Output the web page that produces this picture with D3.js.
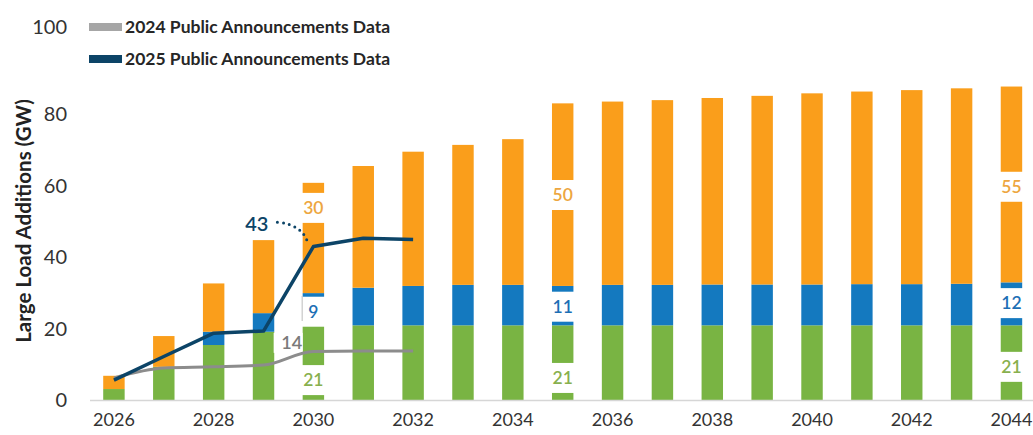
<!DOCTYPE html>
<html>
<head>
<meta charset="utf-8">
<script src="https://cdn.jsdelivr.net/npm/d3@7"></script>
<style>
  body { margin: 0; background: #fff; }
  svg { display: block; font-family: Lato, "Open Sans", sans-serif; }
</style>
</head>
<body>
<div id="chart"></div>
<script>
// Large load additions by year (GW)
var years = [2026, 2027, 2028, 2029, 2030, 2031, 2032, 2033, 2034, 2035,
  2036, 2037, 2038, 2039, 2040, 2041, 2042, 2043, 2044];
var greenVals = [3.2, 9.4, 15.5, 19.2, 21, 21, 21, 21, 21, 21,
  21, 21, 21, 21, 21, 21, 21, 21, 21];
var blueVals = [0, 0, 3.7, 5.2, 9, 10.5, 11, 11.3, 11.3, 11,
  11.3, 11.3, 11.4, 11.4, 11.4, 11.5, 11.5, 11.6, 12];
var orangeVals = [3.7, 8.6, 13.5, 20.4, 30.8, 34, 37.5, 39.1, 40.7, 51,
  51.2, 51.6, 52.1, 52.7, 53.4, 53.8, 54.2, 54.6, 54.7];

// announcement lines
var lineYears = [2026, 2027, 2028, 2029, 2030, 2031, 2032];
var line2024 = [6.3, 9.1, 9.4, 9.9, 13.7, 13.8, 13.8];
var line2025 = [5.7, 12.3, 18.8, 19.4, 43, 45.3, 45.0];

// in-bar value labels (position given in GW)
var labelYears = [2030, 2030, 2030, 2035, 2035, 2035, 2044, 2044, 2044];
var labelSeries = ["orange", "blue", "green", "orange", "blue", "green", "orange", "blue", "green"];
var labelTexts = ["30", "9", "21", "50", "11", "21", "55", "12", "21"];
var labelAt = [53.8, 24.8, 5.7, 57.4, 26.2, 6.3, 59.7, 27.2, 9.4];

var yTicks = [0, 20, 40, 60, 80];
var xTicks = [2026, 2028, 2030, 2032, 2034, 2036, 2038, 2040, 2042, 2044];
var legendNames = ["2024 Public Announcements Data", "2025 Public Announcements Data"];

var colors = { green: "#79b443", blue: "#1479bf", orange: "#fa9e1b" };
var labelColors = { green: "#88b04e", blue: "#1d6fb5", orange: "#eda640" };
var navy = "#0c4467", gray = "#8c8c8c";

var W = 1033, H = 435;
var svg = d3.select("#chart").append("svg").attr("width", W).attr("height", H);

var x = d3.scaleBand().domain(years).range([89, 1036.4])
  .paddingInner(0.57).paddingOuter(0.285);
var y = d3.scaleLinear().domain([0, 100]).range([400.5, 42.5]);
var xc = function(yr) { return x(yr) + x.bandwidth() / 2; };

// stacked bars
var rows = years.map(function(yr, i) {
  return { year: yr, green: greenVals[i], blue: blueVals[i], orange: orangeVals[i] };
});
var stack = d3.stack().keys(["green", "blue", "orange"])(rows);

svg.append("g").selectAll("g")
  .data(stack).enter().append("g")
  .attr("fill", function(d) { return colors[d.key]; })
  .selectAll("rect")
  .data(function(d) { return d; })
  .enter().append("rect")
  .attr("x", function(d) { return x(d.data.year); })
  .attr("width", x.bandwidth())
  .attr("y", function(d) { return y(d[1]); })
  .attr("height", function(d) { return Math.max(0, y(d[0]) - y(d[1])); });

// baseline
svg.append("line")
  .attr("x1", 90).attr("x2", W)
  .attr("y1", y(0)).attr("y2", y(0))
  .attr("stroke", "#d6d6d6").attr("stroke-width", 1.5);

// white boxes + labels inside bars
var labs = labelTexts.map(function(t, i) {
  return { year: labelYears[i], key: labelSeries[i], text: t, at: labelAt[i] };
});
var lg = svg.append("g");
lg.selectAll("rect").data(labs).enter().append("rect")
  .attr("x", function(d) { return x(d.year) - 1; })
  .attr("width", x.bandwidth() + 2)
  .attr("y", function(d) { return y(d.at) - 15; })
  .attr("height", 30)
  .attr("fill", "#fff");
lg.selectAll("text").data(labs).enter().append("text")
  .attr("x", function(d) { return xc(d.year); })
  .attr("y", function(d) { return y(d.at); })
  .attr("dy", "0.36em")
  .attr("text-anchor", "middle")
  .attr("font-size", "17.5px")
  .attr("font-weight", 600)
  .attr("fill", function(d) { return labelColors[d.key]; })
  .text(function(d) { return d.text; });

// "14" label for the 2024 line, boxed at the left of the 2030 bar
svg.append("rect")
  .attr("x", x(2030) - 29).attr("width", 29)
  .attr("y", y(16.1) - 10).attr("height", 20)
  .attr("fill", "#fff");
svg.append("line")
  .attr("x1", x(2030) - 0.5).attr("x2", x(2030) - 0.5)
  .attr("y1", y(29.2)).attr("y2", y(22.2))
  .attr("stroke", "#bdbdbd").attr("stroke-width", 1);

// lines
var lineGen = d3.line()
  .x(function(d) { return xc(d[0]); })
  .y(function(d) { return y(d[1]); });

svg.append("path")
  .datum(lineYears.map(function(yr, i) { return [yr, line2024[i]]; }))
  .attr("fill", "none").attr("stroke", gray).attr("stroke-width", 3)
  .attr("d", lineGen.curve(d3.curveMonotoneX));

svg.append("path")
  .datum(lineYears.map(function(yr, i) { return [yr, line2025[i]]; }))
  .attr("fill", "none").attr("stroke", navy).attr("stroke-width", 3.5)
  .attr("stroke-linejoin", "round")
  .attr("d", lineGen.curve(d3.curveLinear));

svg.append("text")
  .attr("x", x(2030) - 11).attr("y", y(16.1))
  .attr("dy", "0.36em").attr("text-anchor", "middle")
  .attr("font-size", "18px").attr("font-weight", 600)
  .attr("fill", "#7a7a7a")
  .text("14");

// "43" callout with dotted leader
var p43x = xc(2030), p43y = y(43);
svg.append("text")
  .attr("x", p43x - 45).attr("y", y(49.4))
  .attr("dy", "0.36em").attr("text-anchor", "end")
  .attr("font-size", "20px").attr("font-weight", 600)
  .attr("fill", navy)
  .text("43");
var lead = d3.path();
lead.moveTo(p43x - 36, y(49.8));
lead.quadraticCurveTo(p43x - 12, y(49.2), p43x - 6, p43y - 5);
svg.append("path")
  .attr("d", lead.toString())
  .attr("fill", "none").attr("stroke", navy)
  .attr("stroke-width", 3).attr("stroke-linecap", "round")
  .attr("stroke-dasharray", "0 6");

// y axis
var yAxis = svg.append("g")
  .attr("transform", "translate(70,0)")
  .call(d3.axisLeft(y).tickValues(yTicks).tickSize(0).tickPadding(3));
yAxis.select(".domain").remove();
yAxis.selectAll("text")
  .attr("font-family", "Lato, sans-serif")
  .attr("font-size", "20px").attr("fill", "#333");

// x axis
var xAxis = svg.append("g")
  .attr("transform", "translate(0," + y(0) + ")")
  .call(d3.axisBottom(x).tickValues(xTicks).tickSize(0).tickPadding(13));
xAxis.select(".domain").remove();
xAxis.selectAll("text")
  .attr("font-family", "Lato, sans-serif")
  .attr("font-size", "18px").attr("fill", "#333");

// y title
svg.append("text")
  .attr("transform", "translate(24,221) rotate(-90)")
  .attr("dy", "0.36em")
  .attr("text-anchor", "middle")
  .attr("font-size", "20.5px").attr("font-weight", 700)
  .attr("fill", "#222")
  .text("Large Load Additions (GW)");

// top label of the axis sits on the legend row
svg.append("text")
  .attr("x", 67).attr("y", 27).attr("dy", "0.36em")
  .attr("text-anchor", "end")
  .attr("font-size", "20px").attr("fill", "#333")
  .text("100");

// legend
var leg = svg.append("g").selectAll("g")
  .data(legendNames).enter().append("g")
  .attr("transform", function(d, i) { return "translate(89," + (27 + i * 32) + ")"; });
leg.append("rect")
  .attr("x", 0).attr("y", -4).attr("width", 33).attr("height", 8)
  .attr("fill", function(d, i) { return i === 0 ? "#a6a6a6" : navy; });
leg.append("text")
  .attr("x", 36).attr("dy", "0.36em")
  .attr("font-size", "17.5px").attr("font-weight", 700)
  .attr("fill", "#262626")
  .text(function(d) { return d; });
</script>
</body>
</html>
